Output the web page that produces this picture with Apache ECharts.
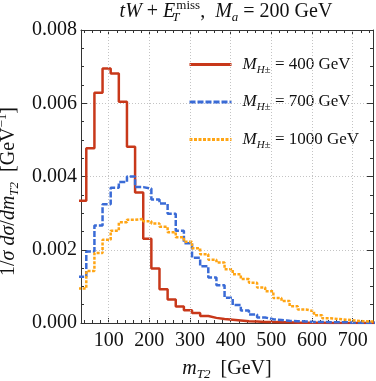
<!DOCTYPE html>
<html>
<head>
<meta charset="utf-8">
<script src="https://cdn.jsdelivr.net/npm/echarts@6/dist/echarts.min.js"></script>
<style>
html, body { margin: 0; padding: 0; background: #fff; }
#chart { width: 376px; height: 381px; }
</style>
</head>
<body>
<div id="chart"></div>
<script>
// histogram bins: 20 GeV wide, first bin starts at 25 GeV
var binStart = 25;
var binWidth = 20;
var xMajorTicks = [100, 200, 300, 400, 500, 600, 700];
var massLabels = ['400', '700', '1000'];

var red400 = [0.00334, 0.00477, 0.00629, 0.00695, 0.00681, 0.00604, 0.00481, 0.00356, 0.00230, 0.00149,
              0.00092, 0.00064, 0.00045, 0.00035, 0.00027, 0.00019, 0.00014, 0.00011, 0.00009, 0.00007,
              0.00005, 0.00004, 0.00003, 0.00003, 0.00002, 0.00002, 0.00001, 0.00001, 0.00001, 0.00001,
              0, 0, 0, 0, 0, 0, 0];
var blue700 = [0.00126, 0.00195, 0.00266, 0.00324, 0.00369, 0.00385, 0.00400, 0.00371, 0.00367, 0.00337,
               0.00326, 0.00298, 0.00252, 0.00218, 0.00178, 0.00155, 0.00124, 0.00103, 0.00069, 0.00049,
               0.00034, 0.00023, 0.00015, 0.00010, 0.00008, 0.00006, 0.00005, 0.00004, 0.00003, 0.00003,
               0.00002, 0.00002, 0.00002, 0.00001, 0.00001, 0.00001, 0.00001];
var orange1000 = [0.00094, 0.00142, 0.00191, 0.00227, 0.00252, 0.00275, 0.00282, 0.00284, 0.00278, 0.00272,
                  0.00263, 0.00248, 0.00234, 0.00222, 0.00204, 0.00188, 0.00173, 0.00165, 0.00147, 0.00133,
                  0.00120, 0.00110, 0.00097, 0.00087, 0.00068, 0.00060, 0.00046, 0.00037, 0.00032, 0.00021,
                  0.00013, 0.00011, 0.00009, 0.00007, 0.00005, 0.00004, 0.00004];

var serif = '"Liberation Serif", "DejaVu Serif", serif';
var ink = '#111';
var frame = '#333';
var gridCol = '#c4c4c4';

function steps(values) {
    var pts = [];
    for (var i = 0; i < values.length; i++) {
        pts.push([binStart + i * binWidth, values[i]]);
    }
    pts.push([binStart + values.length * binWidth, values[values.length - 1]]);
    return pts;
}

var xMinorTicks = [];
for (var t = 40; t <= 740; t += 20) xMinorTicks.push(t);

function richSet(size, small) {
    return {
        n: { fontFamily: serif, fontSize: size, color: ink, lineHeight: size + 5 },
        i: { fontFamily: serif, fontSize: size, fontStyle: 'italic', color: ink, lineHeight: size + 5 },
        sub: { fontFamily: serif, fontSize: small, fontStyle: 'italic', color: ink, lineHeight: small, verticalAlign: 'bottom' },
        subz: { fontFamily: serif, fontSize: small, fontStyle: 'italic', color: ink, lineHeight: small, verticalAlign: 'bottom', width: 1 },
        sup: { fontFamily: serif, fontSize: small, color: ink, lineHeight: small, verticalAlign: 'top' }
    };
}

var chart = echarts.init(document.getElementById('chart'));

var xBase = { type: 'value', min: 32, max: 750, splitLine: { show: false } };
var yBase = { type: 'value', min: 0, max: 0.008, interval: 0.002 };

var option = {
    animation: false,
    backgroundColor: '#fff',
    grid: { left: 81, right: 3, top: 30, bottom: 58, outerBoundsMode: 'none', containLabel: false },
    graphic: [{
        type: 'text',
        x: 226,
        y: 12,
        style: {
            text: '{i|tW} + {i|E}{subz|T}{sup|miss}{n|,  }{i|M}{sub|a}{n| = 200 GeV}',
            rich: richSet(20, 13),
            fontFamily: serif,
            fontSize: 20,
            fill: ink,
            align: 'center',
            verticalAlign: 'middle'
        }
    }],
    legend: {
        orient: 'vertical',
        left: 183,
        top: 51,
        itemWidth: 42,
        itemHeight: 14,
        itemGap: 18,
        itemStyle: { opacity: 0, borderWidth: 0 },
        lineStyle: { width: 3 },
        textStyle: { rich: richSet(17, 11), padding: [0, 0, 0, 6] },
        formatter: function (name) {
            return '{i|M}{sub|H±}{n| = ' + name + ' GeV}';
        },
        data: massLabels
    },
    xAxis: [
        Object.assign({}, xBase, {
            position: 'bottom',
            axisLine: { show: true, lineStyle: { color: frame, width: 1 } },
            axisTick: { show: true, inside: true, length: 5, customValues: xMajorTicks, lineStyle: { color: frame } },
            axisLabel: { customValues: xMajorTicks, fontFamily: serif, fontSize: 20, color: ink, margin: 8 },
            name: '{i|m}{sub|T2}{n|  [GeV]}',
            nameLocation: 'middle',
            nameGap: 33,
            nameTextStyle: { rich: richSet(20, 13) }
        }),
        Object.assign({}, xBase, {
            position: 'bottom',
            axisLine: { show: false },
            axisTick: { show: true, inside: true, length: 3, customValues: xMinorTicks, lineStyle: { color: frame } },
            axisLabel: { show: false }
        }),
        Object.assign({}, xBase, {
            position: 'top',
            axisLine: { show: true, lineStyle: { color: frame, width: 1 } },
            axisTick: { show: true, inside: true, length: 5, customValues: xMajorTicks, lineStyle: { color: frame } },
            axisLabel: { show: false }
        }),
        Object.assign({}, xBase, {
            position: 'top',
            axisLine: { show: false },
            axisTick: { show: true, inside: true, length: 3, customValues: xMinorTicks, lineStyle: { color: frame } },
            axisLabel: { show: false }
        })
    ],
    yAxis: [
        Object.assign({}, yBase, {
            position: 'left',
            axisLine: { show: true, lineStyle: { color: frame, width: 1 } },
            axisTick: { show: true, inside: true, length: 6, lineStyle: { color: frame } },
            minorTick: { show: true, splitNumber: 4, length: 3, lineStyle: { color: frame } },
            axisLabel: {
                fontFamily: serif, fontSize: 20, color: ink, margin: 4,
                formatter: function (v) { return v.toFixed(3); }
            },
            splitLine: { show: true, lineStyle: { color: gridCol, type: [1, 2], width: 1 } },
            name: '{n|1/}{i|σ}{n| }{i|dσ}{n|/}{i|dm}{sub|T2}{n|  [GeV}{sup|−1}{n|]}',
            nameLocation: 'middle',
            nameRotate: 90,
            nameGap: 56,
            nameTextStyle: { rich: richSet(20, 13), padding: [0, 30, 0, 0] }
        }),
        Object.assign({}, yBase, {
            position: 'right',
            axisLine: { show: true, lineStyle: { color: frame, width: 1 } },
            axisTick: { show: true, inside: true, length: 6, lineStyle: { color: frame } },
            minorTick: { show: true, splitNumber: 4, length: 3, lineStyle: { color: frame } },
            axisLabel: { show: false },
            splitLine: { show: false }
        })
    ],
    series: [
        {
            type: 'line',
            name: 'grid',
            z: 1,
            data: [[100, 0], [700, 0]],
            symbol: 'none',
            lineStyle: { opacity: 0 },
            silent: true,
            markLine: {
                silent: true,
                symbol: 'none',
                label: { show: false },
                lineStyle: { color: gridCol, type: [1, 2], width: 1 },
                data: xMajorTicks.map(function (v) { return { xAxis: v }; })
            }
        },
        {
            type: 'line', name: massLabels[0], step: 'end', showSymbol: false, symbol: 'none',
            color: '#c8381a', lineStyle: { width: 2.5, color: '#c8381a' },
            data: steps(red400)
        },
        {
            type: 'line', name: massLabels[1], step: 'end', showSymbol: false, symbol: 'none',
            color: '#3a6bd6', lineStyle: { width: 2.5, color: '#3a6bd6', type: [6, 2] },
            data: steps(blue700)
        },
        {
            type: 'line', name: massLabels[2], step: 'end', showSymbol: false, symbol: 'none',
            color: '#ffa514', lineStyle: { width: 2.5, color: '#ffa514', type: [3, 1.5] },
            data: steps(orange1000)
        }
    ]
};

chart.setOption(option);
</script>
</body>
</html>
